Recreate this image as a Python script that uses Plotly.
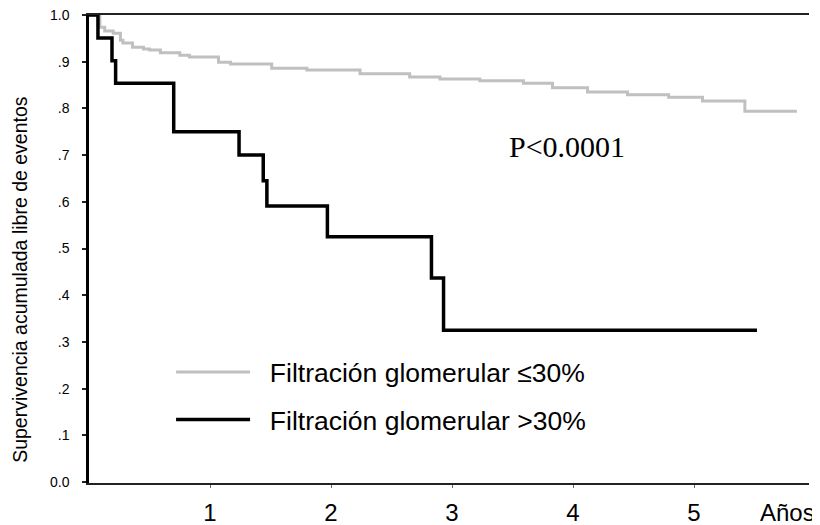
import plotly.graph_objects as go

# Kaplan-Meier style survival data (years, cumulative event-free survival)
gray_name = "Filtración glomerular ≤30%"
gray_t = [0, 0.09, 0.13, 0.20, 0.26, 0.28, 0.36, 0.45, 0.50, 0.59, 0.75, 0.83, 1.07, 1.17,
          1.51, 1.80, 2.24, 2.65, 2.90, 3.23, 3.59, 3.83, 4.12, 4.45, 4.79, 5.07, 5.42, 5.85]
gray_s = [1.0, 0.974, 0.966, 0.961, 0.946, 0.940, 0.931, 0.927, 0.925, 0.919, 0.914, 0.910, 0.899, 0.895,
          0.886, 0.882, 0.874, 0.867, 0.863, 0.859, 0.854, 0.844, 0.835, 0.829, 0.824, 0.816, 0.794, 0.794]

black_name = "Filtración glomerular >30%"
black_t = [0, 0.074, 0.19, 0.22, 0.70, 1.24, 1.44, 1.47, 1.97, 2.83, 2.93, 5.52]
black_s = [1.0, 0.951, 0.902, 0.854, 0.750, 0.700, 0.645, 0.591, 0.525, 0.437, 0.325, 0.325]

x_tickvals = [1, 2, 3, 4, 5]
x_ticktext = ["1", "2", "3", "4", "5"]
y_tickvals = [0.0, 0.1, 0.2, 0.3, 0.4, 0.5, 0.6, 0.7, 0.8, 0.9, 1.0]
y_ticktext = ["0.0", ".1", ".2", ".3", ".4", ".5", ".6", ".7", ".8", ".9", "1.0"]

x_unit_label = "Años"
y_title = "Supervivencia acumulada libre de eventos"
p_text = "P<0.0001"

SANS = "Liberation Sans, Arial, sans-serif"
SERIF = "Liberation Serif, Times New Roman, serif"
PAD = "\u00a0\u00a0"  # small gap between legend key and label

fig = go.Figure()
fig.add_trace(go.Scatter(x=gray_t, y=gray_s, mode="lines", line_shape="hv",
                         line=dict(color="#c0c0c0", width=3), name=PAD + gray_name, legendgroup="a"))
fig.add_trace(go.Scatter(x=black_t, y=black_s, mode="lines", line_shape="hv",
                         line=dict(color="#000000", width=3.5), name=PAD + black_name, legendgroup="b"))

# page body has an 8px margin, so the figure is 8px smaller and margins reduced accordingly
fig.update_layout(
    width=812, height=517,
    margin=dict(l=81, r=11, t=7, b=42, autoexpand=False),
    paper_bgcolor="white", plot_bgcolor="white",
    font=dict(family=SANS, color="black"),
    showlegend=True,
    legend=dict(x=0.114, y=0.288, xanchor="left", yanchor="top",
                font=dict(size=26.5, family=SANS, color="black"),
                bgcolor="rgba(0,0,0,0)", itemwidth=74, tracegroupgap=10),
    xaxis=dict(range=[0, 5.95], tickvals=x_tickvals, ticktext=x_ticktext, automargin=False,
               showgrid=False, zeroline=False, showline=True, linecolor="#222",
               linewidth=1.5, mirror=True, ticks="outside", ticklen=3, tickcolor="#666",
               tickfont=dict(size=24, family=SANS), ticklabelstandoff=4,
               ticklabeloverflow="allow"),
    yaxis=dict(range=[-0.002, 1.0], tickvals=y_tickvals, ticktext=y_ticktext, automargin=False,
               showgrid=False, zeroline=False, showline=True, linecolor="black",
               linewidth=2.5, ticks="outside", ticklen=4, tickwidth=2, tickcolor="#222",
               tickfont=dict(size=14, family=SANS), ticklabelstandoff=10,
               ticklabeloverflow="allow"),
    yaxis2=dict(range=[-0.002, 1.0], overlaying="y", side="right", showline=True, automargin=False,
                linecolor="black", linewidth=1.5, showticklabels=False, ticks="",
                showgrid=False, zeroline=False),
)

fig.add_annotation(text=y_title, xref="paper", yref="paper", x=-0.096, y=0.436,
                   textangle=-90, showarrow=False, xanchor="center", yanchor="middle",
                   font=dict(size=19.5, family=SANS))
fig.add_annotation(text=x_unit_label, xref="paper", yref="paper", x=1.011, y=-0.062,
                   showarrow=False, xanchor="right", yanchor="middle",
                   font=dict(size=24, family=SANS))
fig.add_annotation(text=p_text, xref="x", yref="y", x=3.95, y=0.718,
                   showarrow=False, xanchor="center", yanchor="middle",
                   font=dict(size=30, family=SERIF))

fig.write_html("out.html")
